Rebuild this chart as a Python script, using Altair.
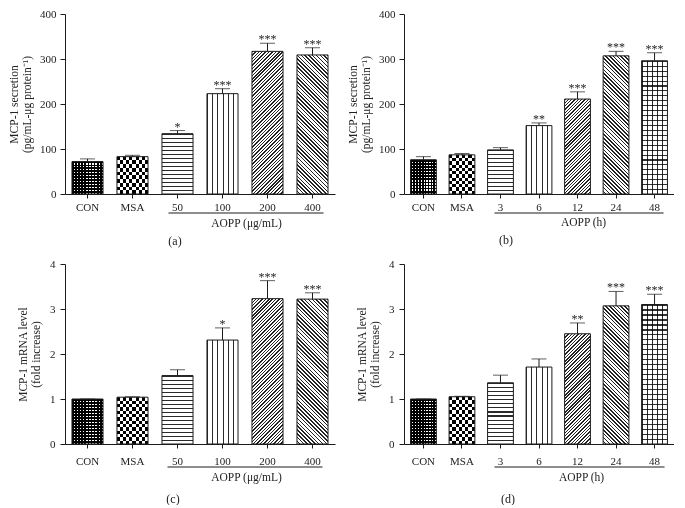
import altair as alt
import pandas as pd
import math

FONT = "Liberation Serif"
INK = "#1c1c1c"
TXT = "#222222"

# ---------------- data ----------------
a_cats = ["CON", "MSA", "50", "100", "200", "400"]
a_vals = [72, 83, 134, 223, 317, 309]
a_sem = [6, 3, 7, 11, 18, 16]
a_sig = ["", "", "*", "***", "***", "***"]

b_cats = ["CON", "MSA", "3", "6", "12", "24", "48"]
b_vals = [76, 87, 98, 152, 211, 307, 296]
b_sem = [7, 3, 5, 6, 16, 10, 18]
b_sig = ["", "", "", "**", "***", "***", "***"]

c_cats = ["CON", "MSA", "50", "100", "200", "400"]
c_vals = [1.0, 1.04, 1.52, 2.31, 3.23, 3.22]
c_sem = [0.0, 0.01, 0.13, 0.27, 0.40, 0.14]
c_sig = ["", "", "", "*", "***", "***"]

d_cats = ["CON", "MSA", "3", "6", "12", "24", "48"]
d_vals = [1.0, 1.05, 1.36, 1.71, 2.45, 3.07, 3.10]
d_sem = [0.0, 0.01, 0.17, 0.18, 0.24, 0.32, 0.23]
d_sig = ["", "", "", "", "**", "***", "***"]

pats6 = ["checkfine", "checkcoarse", "hlines", "vlines", "diagup", "diagdown"]
pats7 = ["checkfine", "checkcoarse", "hlines", "vlines", "diagup", "diagdown", "grid"]

y_top_ticks = [0, 100, 200, 300, 400]
y_bot_ticks = [0, 1, 2, 3, 4]

W, H = 270, 180


# ---------------- pattern helpers (styling only) ----------------
def stripes(length, period, frac, c_line, c_bg):
    n = max(round(length / period), 1)
    stops = []
    for i in range(n):
        a = round(i / n, 5)
        b = round((i + frac) / n, 5)
        c = round((i + 1) / n, 5)
        stops += [{"offset": a, "color": c_line}, {"offset": b, "color": c_line},
                  {"offset": b, "color": c_bg}, {"offset": c, "color": c_bg}]
    return stops


def grad_x(w, period, frac, c_line, c_bg):
    return {"gradient": "linear", "x1": 0, "y1": 0, "x2": 1, "y2": 0,
            "stops": stripes(w, period, frac, c_line, c_bg)}


def grad_y(h, period, frac, c_line, c_bg):
    return {"gradient": "linear", "x1": 0, "y1": 0, "x2": 0, "y2": 1,
            "stops": stripes(h, period, frac, c_line, c_bg)}


def grad_diag(w, h, period, frac, up, c_line, c_bg):
    L = w + h
    k = L / (w * w + h * h)
    if up:
        x1, y1, x2, y2 = 0, 0, w * k, h * k
    else:
        x1, y1, x2, y2 = 1, 0, 1 - w * k, h * k
    return {"gradient": "linear", "x1": round(x1, 5), "y1": round(y1, 5),
            "x2": round(x2, 5), "y2": round(y2, 5),
            "stops": stripes(L, period, frac, c_line, c_bg)}


def panel(cats, vals, sem, sig, pats, ymax, yticks, ytitle, ytitle_pad, ylabel_pad,
          xtitle, xtitle_x, xtitle_y, label_pad, line_y, line_off, tag, tag_dx,
          tag_offset, pad_inner, pad_outer):
    n = len(cats)
    step = W / (n - pad_inner + 2 * pad_outer)
    bw = step * (1 - pad_inner)
    df = pd.DataFrame({"cat": cats, "val": vals,
                       "top": [v + s for v, s in zip(vals, sem)], "sig": sig})
    xscale = alt.Scale(domain=cats, paddingInner=pad_inner, paddingOuter=pad_outer)
    xaxis = alt.Axis(title=xtitle, labelAngle=0, labelFont=FONT, labelFontSize=11,
                     labelColor=TXT, labelPadding=label_pad, tickSize=4, tickColor=INK,
                     domainColor=INK, titleFont=FONT, titleFontSize=11.5,
                     titleFontWeight="normal", titleColor=TXT, titleX=xtitle_x,
                     titleY=xtitle_y, titleAlign="center", titleBaseline="middle",
                     grid=False)
    yscale = alt.Scale(domain=[0, ymax], nice=False, zero=True)
    yaxis = alt.Axis(title=ytitle, values=yticks, grid=False, tickSize=5, tickColor=INK,
                     domainColor=INK, labelFont=FONT, labelFontSize=11, labelColor=TXT,
                     labelPadding=ylabel_pad, titleFont=FONT, titleFontSize=11.5,
                     titleFontWeight="normal", titleColor=TXT, titlePadding=ytitle_pad,
                     titleLineHeight=13)

    def X(f):
        return alt.X(f, type="nominal", scale=xscale, axis=xaxis)

    def Y(f):
        return alt.Y(f, type="quantitative", scale=yscale, axis=yaxis)

    layers = []
    for i, c in enumerate(cats):
        h = vals[i] / ymax * H
        base = alt.Chart(df).transform_filter(alt.datum.cat == c).encode(x=X("cat"), y=Y("val"))
        p = pats[i]
        if p == "checkfine":
            layers.append(base.mark_bar(fill=grad_x(bw, 3.0, 0.55, "#000000", "#ffffff")))
            layers.append(base.mark_bar(fill=grad_y(h, 3.0, 0.55, "#000000", "#ffffff"),
                                        blend="multiply"))
            layers.append(base.mark_bar(fillOpacity=0, stroke=INK, strokeWidth=1))
        elif p == "checkcoarse":
            s = 3.4
            layers.append(base.mark_bar(fill=grad_x(bw, 2 * s, 0.5, "#000000", "#ffffff")))
            layers.append(base.mark_bar(fill=grad_y(h, 2 * s, 0.5, "#000000", "#ffffff"),
                                        blend="difference"))
            layers.append(base.mark_bar(fillOpacity=0, stroke=INK, strokeWidth=1))
        elif p == "hlines":
            layers.append(base.mark_bar(fill=grad_y(h, 4.0, 0.28, "#2a2a2a", "#ffffff"),
                                        stroke=INK, strokeWidth=1))
        elif p == "vlines":
            layers.append(base.mark_bar(fill=grad_x(bw, 5.0, 0.2, "#2a2a2a", "#ffffff"),
                                        stroke=INK, strokeWidth=1))
        elif p == "diagup":
            layers.append(base.mark_bar(fill=grad_diag(bw, h, 3.4, 0.42, True,
                                                       "#222222", "#ffffff"),
                                        stroke=INK, strokeWidth=1))
        elif p == "diagdown":
            layers.append(base.mark_bar(fill=grad_diag(bw, h, 3.8, 0.4, False,
                                                       "#222222", "#ffffff"),
                                        stroke=INK, strokeWidth=1))
        elif p == "grid":
            layers.append(base.mark_bar(fill=grad_x(bw, 5.0, 0.2, "#2a2a2a", "#ffffff")))
            layers.append(base.mark_bar(fill=grad_y(h, 5.0, 0.22, "#333333", "#ffffff"),
                                        blend="multiply"))
            layers.append(base.mark_bar(fillOpacity=0, stroke=INK, strokeWidth=1))

    err = alt.Chart(df).mark_rule(color=INK, strokeWidth=1).encode(
        x=X("cat"), y=Y("val"), y2=alt.Y2("top"))
    cap = alt.Chart(df).mark_tick(color=INK, size=15, thickness=1).encode(
        x=X("cat"), y=Y("top"))
    stars = alt.Chart(df).mark_text(font=FONT, fontSize=12, color=TXT,
                                    baseline="alphabetic", dy=0).encode(
        x=X("cat"), y=Y("top"), text="sig:N")
    ann = pd.DataFrame({"s": [cats[2]], "e": [cats[-1]]})
    line = alt.Chart(ann).mark_rule(color=INK, strokeWidth=1, xOffset=line_off[0],
                                    x2Offset=line_off[1]).encode(
        x=X("s"), x2=alt.X2("e"), y=alt.value(H + line_y))

    return alt.layer(*layers, err, cap, stars, line).properties(
        width=W, height=H,
        title=alt.TitleParams(tag, orient="bottom", anchor="middle", dx=tag_dx,
                              offset=tag_offset, font=FONT, fontSize=12,
                              fontWeight="normal", color=TXT))


pa = panel(a_cats, a_vals, a_sem, a_sig, pats6, 400, y_top_ticks,
           ["MCP-1 secretion", "(pg/mL-\u03bcg protein\u207b\u00b9)"], 7, 4,
           "AOPP (\u03bcg/mL)", 181, 29, 3, 19, (-9, 11), "(a)", -25, 7, 0.31, 0.155)
pb = panel(b_cats, b_vals, b_sem, b_sig, pats7, 400, y_top_ticks,
           ["MCP-1 secretion", "(pg/mL-\u03bcg protein\u207b\u00b9)"], 7, 4,
           "AOPP (h)", 179, 28, 3, 19, (-6, 9), "(b)", -33, 7, 0.33, 0.17)
pc = panel(c_cats, c_vals, c_sem, c_sig, pats6, 4, y_bot_ticks,
           ["MCP-1 mRNA level", "(fold increase)"], 8, 5,
           "AOPP (\u03bcg/mL)", 181, 33, 7, 23, (-10, 10), "(c)", -27, 11, 0.31, 0.155)
pd_ = panel(d_cats, d_vals, d_sem, d_sig, pats7, 4, y_bot_ticks,
            ["MCP-1 mRNA level", "(fold increase)"], 8, 5,
            "AOPP (h)", 177, 33, 7, 23, (-6, 10), "(d)", -31, 11, 0.33, 0.17)

chart = alt.concat(pa, pb, pc, pd_, columns=2, bounds="flush",
                   spacing=alt.RowColnumber(row=70, column=69)).properties(
    padding=0,
    background="white",
).configure_view(stroke=None)

chart.save("out.html", embed_options={"renderer": "svg", "actions": False})
